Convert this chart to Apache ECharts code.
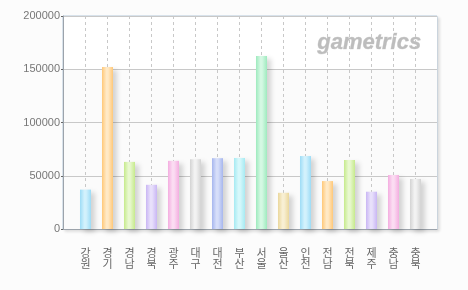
<!DOCTYPE html>
<html><head><meta charset="utf-8">
<script src="https://cdn.jsdelivr.net/npm/echarts@6/dist/echarts.min.js"></script>
<style>html,body{margin:0;padding:0;background:#fcfcfc}#c{width:468px;height:290px}</style>
</head><body><div id="c"></div>
<script>
const categories = ['강원','경기','경남','경북','광주','대구','대전','부산','서울','울산','인천','전남','전북','제주','충남','충북'];
const values = [37000,152000,63000,41500,64000,65500,66500,66700,162500,34000,68500,45000,64800,35000,50700,47000];
const yTicks = [0,50000,100000,150000,200000];
const barBase  = ['#9ddcf6','#ffc878','#c6ea8c','#c9b6f4','#f4ade0','#d3d3d3','#a6b6ee','#a6eaf2','#9eeabe','#ead79c','#9ddcf6','#ffc878','#c6ea8c','#c9b6f4','#f4ade0','#d3d3d3'];
const barLight = ['#d2f1fc','#ffe9c6','#e8f8cf','#e8e0fb','#fbdcf2','#f2f2f2','#d6def9','#d6f8fb','#d4f8e3','#f8efd3','#d2f1fc','#ffe9c6','#e8f8cf','#e8e0fb','#fbdcf2','#f2f2f2'];

const chart = echarts.init(document.getElementById('c'), null, {renderer:'canvas'});
const grad = (i) => new echarts.graphic.LinearGradient(0,0,1,0,[
  {offset:0,color:barBase[i]},{offset:0.4,color:barLight[i]},{offset:0.55,color:barLight[i]},{offset:1,color:barBase[i]}]);
chart.setOption({
  backgroundColor:'#fcfcfc',
  animation:false,
  grid:[
    {left:63,right:31,top:16,bottom:61,show:true,backgroundColor:'#fbfbfb',borderColor:'#b6cadc',borderWidth:1,
     shadowColor:'rgba(0,0,0,0.12)',shadowBlur:3,shadowOffsetX:2,shadowOffsetY:2},
    {left:85.5,right:52.5,top:16,bottom:61}
  ],
  xAxis:[
    {gridIndex:0,type:'value',min:0,max:1,axisLabel:{show:false},axisTick:{show:false},splitLine:{show:false},
     axisLine:{show:true,lineStyle:{color:'#9ca3ab',width:1}}},
    {gridIndex:1,type:'category',data:categories,boundaryGap:false,
     axisLine:{show:false},axisTick:{show:false},
     splitLine:{show:true,lineStyle:{color:'#c8c8c8',type:[3,3],width:1}},
     axisLabel:{interval:0,rotate:0,hideOverlap:false,margin:18,color:'#666',fontSize:11,lineHeight:11,fontFamily:'"Noto Sans CJK KR"',
       formatter:(v)=>v.split('').join('\n')}}
  ],
  yAxis:[
    {gridIndex:0,type:'value',min:0,max:200000,interval:50000,
     axisLine:{show:true,lineStyle:{color:'#9ca3ab'}},
     axisTick:{show:true,length:2,lineStyle:{color:'#666'}},
     axisLabel:{margin:3,color:'#777',fontSize:11,fontFamily:'"Liberation Sans", Arial',
       formatter:(v)=>yTicks.includes(v)?String(v):''},
     splitLine:{show:true,lineStyle:{color:'#c8c8c8',width:1}},
     splitArea:{show:true,areaStyle:{color:['#fbfbfb','#fbfbfb','#fbfbfb','#ffffff']}}},
    {gridIndex:1,type:'value',min:0,max:200000,show:false,splitLine:{show:false}}
  ],
  graphic:[
    {type:'text',left:317,top:32,z:3,style:{text:'gametrics',fill:'#bdbdbd',font:'italic bold 22px "Liberation Sans", Arial',
      stroke:'#d8d8d8',lineWidth:0.5}}
  ],
  series:[{
    type:'bar',xAxisIndex:1,yAxisIndex:1,barWidth:11,clip:false,z:5,
    data:values.map((v,i)=>({value:v,itemStyle:{color:grad(i),shadowColor:'rgba(0,0,0,0.16)',shadowBlur:5,shadowOffsetX:4,shadowOffsetY:3}}))
  }]
});
</script></body></html>
